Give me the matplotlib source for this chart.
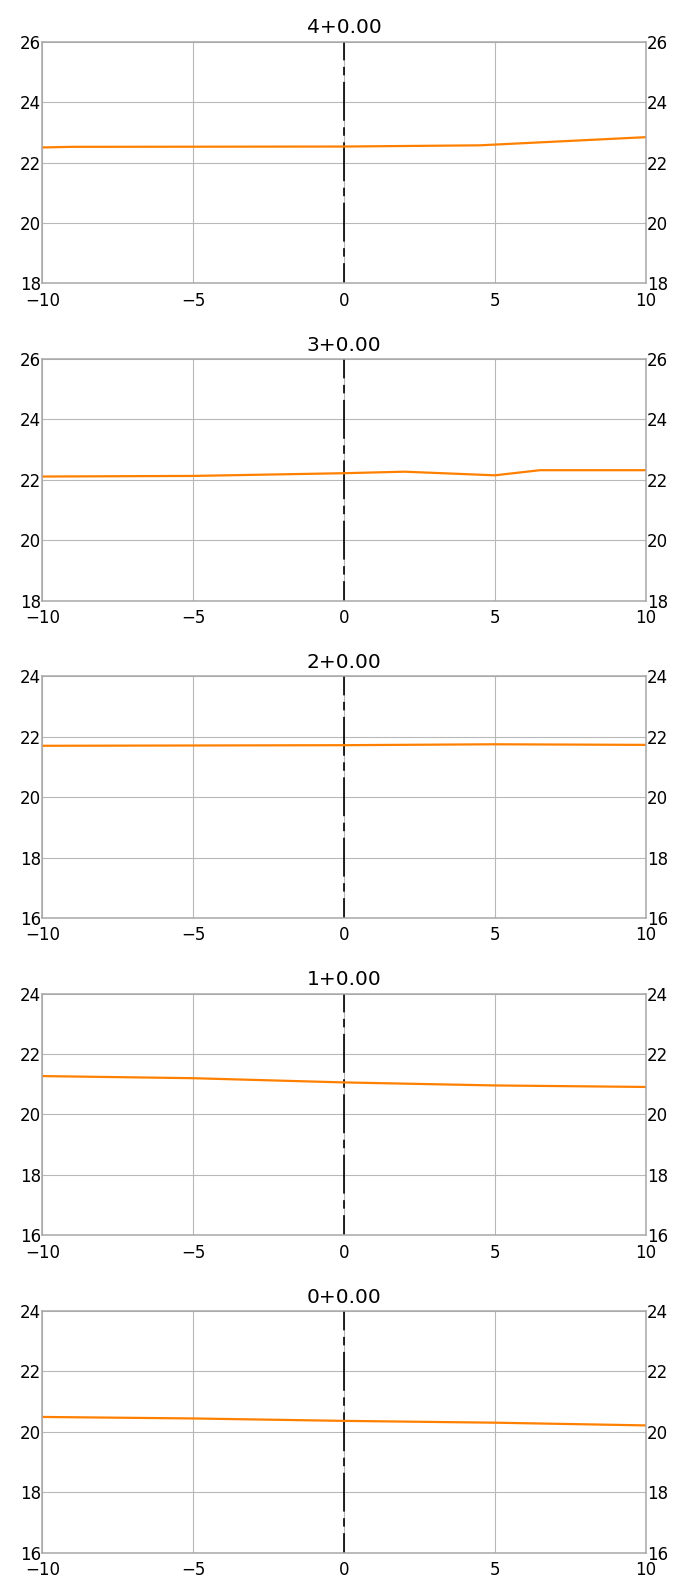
import matplotlib
matplotlib.use("Agg")
from matplotlib import pyplot as plt

plt.rcParams["font.family"] = ["DejaVu Sans"]
plt.rcParams["lines.scale_dashes"] = False

# Panel titles, top to bottom
TITLES = ["4+0.00", "3+0.00", "2+0.00", "1+0.00", "0+0.00"]

# y-axis ranges and ticks per panel
Y_LIMITS = [(18, 26), (18, 26), (16, 24), (16, 24), (16, 24)]
Y_TICKS = [
    [18, 20, 22, 24, 26],
    [18, 20, 22, 24, 26],
    [16, 18, 20, 22, 24],
    [16, 18, 20, 22, 24],
    [16, 18, 20, 22, 24],
]
X_TICKS = [-10, -5, 0, 5, 10]

# Profile series per panel
X4 = [-10, -9, 0, 4.5, 10]
Y4 = [22.50, 22.52, 22.53, 22.57, 22.84]
X3 = [-10, -5, 0, 2, 5, 6.5, 10]
Y3 = [22.11, 22.13, 22.22, 22.27, 22.15, 22.32, 22.32]
X2 = [-10, 0, 5, 10]
Y2 = [21.70, 21.72, 21.75, 21.73]
X1 = [-10, -5, 0, 5, 10]
Y1 = [21.27, 21.20, 21.06, 20.96, 20.91]
X0 = [-10, -5, 0, 5, 10]
Y0 = [20.49, 20.44, 20.36, 20.30, 20.21]

SERIES = [(X4, Y4), (X3, Y3), (X2, Y2), (X1, Y1), (X0, Y0)]

fig = plt.figure(figsize=(6.74, 15.78), dpi=100)

left, width = 0.0627, 0.8953
height = 241.7 / 1578
for i, (title, (xs, ys)) in enumerate(zip(TITLES, SERIES)):
    top_px = 41.7 + i * 317.3
    bottom = 1 - (top_px + 241.7) / 1578
    ax = fig.add_axes([left, bottom, width, height])

    ax.set_xlim(-10, 10)
    ax.set_ylim(*Y_LIMITS[i])
    ax.set_xticks(X_TICKS)
    ax.set_yticks(Y_TICKS[i])
    ax.set_xticklabels(["\u2212" + str(-t) if t < 0 else str(t) for t in X_TICKS])

    ax.grid(True, color="#b8b8b8", linewidth=0.8)
    ax.set_axisbelow(True)
    for sp in ax.spines.values():
        sp.set_color("#a8a8a8")
        sp.set_linewidth(1.1)

    ax.tick_params(axis="both", length=0, labelsize=12, colors="black")
    ax.tick_params(axis="y", pad=1, labelright=True)
    ax.tick_params(axis="x", pad=6)

    # centreline marker, long-short dash pattern
    ax.axvline(0, color="black", linewidth=1.2,
               linestyle=(13.7, (28, 4.7, 6.1, 4.7)))
    ax.plot(xs, ys, color="#ff8000", linewidth=1.6)

    ax.set_title(title, fontsize=14.5, pad=6)

fig.savefig("out.png", dpi=100)
